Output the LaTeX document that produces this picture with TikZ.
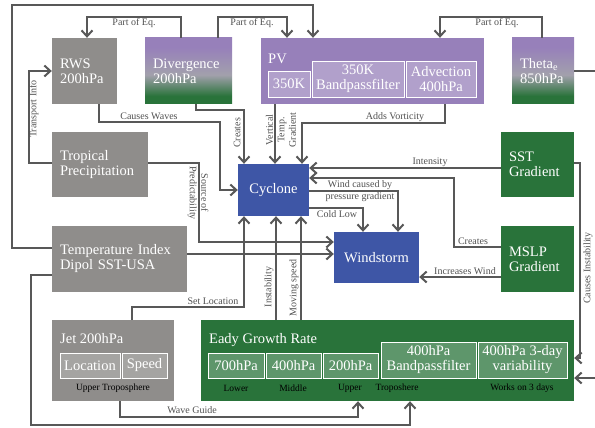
\documentclass[tikz,border=0pt]{standalone}
\usepackage{fontspec}
\setmainfont{Liberation Serif}
\usepackage{xcolor}
\usetikzlibrary{arrows.meta,positioning}

\definecolor{boxgray}{RGB}{143,141,139}
\definecolor{pvpurple}{RGB}{151,128,186}
\definecolor{egreen}{RGB}{41,115,58}
\definecolor{fadegray}{RGB}{162,160,172}
\definecolor{cblue}{RGB}{62,86,166}
\definecolor{linegray}{RGB}{88,88,88}
\definecolor{lblgray}{RGB}{80,80,80}
\pgfdeclareverticalshading{purplegreen}{100bp}{color(0bp)=(egreen); color(31bp)=(egreen); color(47bp)=(fadegray); color(68bp)=(pvpurple); color(100bp)=(pvpurple)}

\begin{document}
\begin{tikzpicture}[x=1pt,y=-1pt,
  bigbox/.style={text=white,font=\fontsize{14.5}{15}\selectfont,inner xsep=8pt,inner ysep=0pt,align=left},
  graybox/.style={bigbox,fill=boxgray},
  greenbox/.style={bigbox,fill=egreen},
  purplebox/.style={bigbox,fill=pvpurple},
  bluebox/.style={bigbox,fill=cblue,align=center},
  fadebox/.style={bigbox,shading=purplegreen},
  boxtitle/.style={text=white,font=\fontsize{14.5}{15}\selectfont,inner sep=0pt},
  subbox/.style={draw=white,line width=0.8pt,text=white,font=\fontsize{14.5}{15}\selectfont,align=center,inner sep=0pt},
  conn/.style={draw=linegray,line width=2pt,-{Straight Barb[length=6pt,width=11pt]}},
  lbl/.style={text=lblgray,font=\fontsize{10}{11.5}\selectfont,inner sep=1pt,align=center},
  tinytxt/.style={text=black,font=\fontsize{9.5}{10}\selectfont,inner sep=0pt}]
\useasboundingbox (0,0) rectangle (595,428);
\clip (0,0) rectangle (595,428);

\node[graybox,minimum width=65,minimum height=66,text width=49] (rws) at (84.5,71) {RWS\\200hPa};
\node[fadebox,minimum width=87,minimum height=66,text width=71] (div) at (188.5,71) {Divergence\\200hPa};
\node[purplebox,minimum width=223,minimum height=66] (pv) at (372.5,71) {};
\node[boxtitle,anchor=base west] (pvtitle) at (268,64) {PV};
\node[subbox,fill=pvpurple!75!white,minimum width=42,minimum height=26] (pvA) at (289,84) {350K};
\node[subbox,fill=pvpurple!75!white,minimum width=92,minimum height=36] (pvB) at (358,79) {350K\\Bandpassfilter};
\node[subbox,fill=pvpurple!75!white,minimum width=70,minimum height=36] (pvC) at (441,79) {Advection\\400hPa};
\node[fadebox,minimum width=62,minimum height=66,text width=46] (theta) at (543,71) {Theta\textsubscript{e}\\850hPa};

\node[graybox,minimum width=96,minimum height=65,text width=80] (trop) at (100,164.5) {Tropical\\Precipitation};
\node[graybox,minimum width=135,minimum height=66,text width=119] (tidx) at (119.5,259) {Temperature Index\\Dipol SST-USA};

\node[graybox,minimum width=122,minimum height=81] (jet) at (113,360.5) {};
\node[boxtitle,anchor=base west] (jettitle) at (60,343) {Jet 200hPa};
\node[subbox,fill=boxgray!80!white,minimum width=60,minimum height=25] (jloc) at (90,365.5) {Location};
\node[subbox,fill=boxgray!80!white,minimum width=45,minimum height=25] (jspd) at (144.5,365.5) {Speed};
\node[tinytxt] (jnote) at (113,388) {Upper Troposphere};

\node[greenbox,minimum width=373,minimum height=81] (eady) at (387.5,360.5) {};
\node[boxtitle,anchor=base west] (eadytitle) at (209,343) {Eady Growth Rate};
\node[subbox,fill=egreen!75!white,minimum width=56,minimum height=25] (e1) at (236,365.5) {700hPa};
\node[subbox,fill=egreen!75!white,minimum width=55,minimum height=25] (e2) at (293.5,365.5) {400hPa};
\node[subbox,fill=egreen!75!white,minimum width=55,minimum height=25] (e3) at (350.5,365.5) {200hPa};
\node[subbox,fill=egreen!75!white,minimum width=95,minimum height=36] (e4) at (428.5,360) {400hPa\\Bandpassfilter};
\node[subbox,fill=egreen!75!white,minimum width=89,minimum height=36] (e5) at (522.5,360) {400hPa 3-day\\variability};
\node[tinytxt] (n1) at (236,388) {Lower};
\node[tinytxt] (n2) at (293,388) {Middle};
\node[tinytxt] (n3) at (350,388) {Upper};
\node[tinytxt] (n4) at (397,388) {Troposhere};
\node[tinytxt] (n5) at (522,388) {Works on 3 days};

\node[bluebox,minimum width=71,minimum height=52] (cyc) at (273.5,190) {Cyclone};
\node[bluebox,minimum width=85,minimum height=51] (wind) at (376.5,257.5) {Windstorm};
\node[greenbox,minimum width=73,minimum height=65,text width=57] (sst) at (537.5,164.5) {SST\\Gradient};
\node[greenbox,minimum width=73,minimum height=66,text width=57] (mslp) at (537.5,259) {MSLP\\Gradient};

\draw[conn] ([xshift=-7.5]div.north) -- ++(0,-21) -| ([xshift=2.5]rws.north);
\draw[conn] ([xshift=29.5]div.north) -- ++(0,-21) -| ([xshift=-85.5]pv.north);
\draw[conn] ([xshift=-1]theta.north) -- ++(0,-21) -| ([xshift=67.5]pv.north);
\draw[conn] ([yshift=11]tidx.west) -| (12,5) -| ([xshift=-59.5]pv.north);
\draw[conn] ([xshift=14.5]rws.south) |- (220,122) |- (cyc.west);
\draw[conn] ([xshift=7.5]div.south) -- ++(0,6) -| ([xshift=-29.5]cyc.north);
\draw[conn] ([xshift=-97.5]pv.south) -- ([xshift=1.5]cyc.north);
\draw[conn] ([xshift=72.5]pv.south) -- ++(0,19) -| ([xshift=28.5]cyc.north);
\draw[conn] ([yshift=-3.5]sst.west) -- ([yshift=22]cyc.east);
\draw[conn] ([yshift=12]mslp.west) -- ++(-47,0) |- ([yshift=12]cyc.east);
\draw[conn] ([yshift=-18]mslp.west) -- ([yshift=-19.5]wind.east);
\draw[conn] ([yshift=-1]cyc.east) -| ([xshift=21.5]wind.north);
\draw[conn] ([yshift=-18]cyc.east) -| ([xshift=-13.5]wind.north);
\draw[conn] ([yshift=1.5]trop.east) -- ++(51,0) |- ([yshift=15.5]wind.west);
\draw[conn] ([yshift=1.5]trop.west) -- ++(-23,0) |- (rws.west);
\draw[conn] ([yshift=5]tidx.east) -- ([yshift=3.5]wind.west);
\draw[conn] ([yshift=-16]tidx.west) -| (31,425) -| ([xshift=22.5]eady.south);
\draw[conn] ([xshift=7]jet.south) -- ++(0,16) -| ([xshift=-29.5]eady.south);
\draw[conn] ([xshift=19]jet.north) -- ++(0,-13) -| ([xshift=-29.5]cyc.south);
\draw[conn] ([xshift=-111.5]eady.north) -- ([xshift=2.5]cyc.south);
\draw[conn] ([xshift=-86.5]eady.north) -- ([xshift=27.5]cyc.south);
\draw[conn] ([yshift=1.5]sst.east) -- ++(6,0) |- ([yshift=2.5]eady.east);
\draw[conn] (theta.east) -- ++(26,0) |- ([yshift=-17.5]eady.east);

\node[lbl] (peq1) at (134,23) {Part of Eq.};
\node[lbl] (peq2) at (252,23) {Part of Eq.};
\node[lbl] (peq3) at (497,23) {Part of Eq.};
\node[lbl] (lwaves) at (149,116) {Causes Waves};
\node[lbl,rotate=90] (lcreates) at (237,133) {Creates};
\node[lbl,rotate=90] (lvert) at (281,130) {Vertical\\Temp.\\Gradient};
\node[lbl] (lvort) at (395,117) {Adds Vorticity};
\node[lbl] (lint) at (430,162) {Intensity};
\node[lbl] (lwind) at (360,191) {Wind caused by\\pressure gradient};
\node[lbl] (lcold) at (337,214) {Cold Low};
\node[lbl] (lcreates2) at (473,241) {Creates};
\node[lbl] (lincr) at (465,271) {Increases Wind};
\node[lbl,rotate=90] (ltrans) at (34,109) {Transport Info};
\node[lbl,rotate=-90] (lsource) at (198,193) {Source of\\Predictability};
\node[lbl] (lset) at (213,301) {Set Location};
\node[lbl,rotate=90] (linst) at (269,287) {Instability};
\node[lbl,rotate=90] (lmove) at (294,288) {Moving speed};
\node[lbl] (lguide) at (192,410) {Wave Guide};
\node[lbl,rotate=90] (lcinst) at (588,268) {Causes Instability};
\end{tikzpicture}
\end{document}
